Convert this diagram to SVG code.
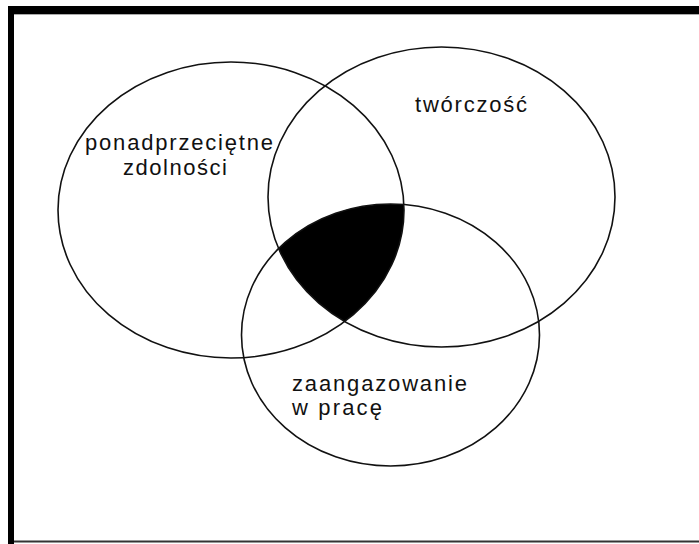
<svg xmlns="http://www.w3.org/2000/svg" width="699" height="544" viewBox="0 0 699 544">
<style>
.ring{fill:none;stroke:#111;stroke-width:1.6}
.lbl{font-family:"Liberation Sans",Arial,sans-serif;font-size:22px;fill:#111}
</style>
<defs>
<clipPath id="cR"><ellipse cx="441.5" cy="197" rx="173.5" ry="150"/></clipPath>
<clipPath id="cB"><ellipse cx="390.5" cy="335" rx="149" ry="131"/></clipPath>
</defs>
<rect x="0" y="0" width="699" height="544" fill="#fff"/>
<g id="frame">
<rect x="8" y="6" width="691" height="8" fill="#000"/>
<rect x="8" y="6" width="6" height="538" fill="#000"/>
<rect x="14" y="14" width="685" height="1" fill="#aaa"/>
<rect x="14" y="540.5" width="685" height="2" fill="#333"/>
</g>
<g id="core">
<g clip-path="url(#cR)"><g clip-path="url(#cB)"><ellipse cx="231" cy="210" rx="173" ry="148" fill="#000"/></g></g>
</g>
<g id="node-zdolnosci">
<ellipse class="ring" cx="231" cy="210" rx="173" ry="148"/>
<text class="lbl" x="85" y="150" textLength="188" lengthAdjust="spacing">ponadprzeciętne</text>
<text class="lbl" x="123" y="175" textLength="104" lengthAdjust="spacing">zdolności</text>
</g>
<g id="node-tworczosc">
<ellipse class="ring" cx="441.5" cy="197" rx="173.5" ry="150"/>
<text class="lbl" x="415" y="112" textLength="112" lengthAdjust="spacing">twórczość</text>
</g>
<g id="node-zaangazowanie">
<ellipse class="ring" cx="390.5" cy="335" rx="149" ry="131"/>
<text class="lbl" x="292" y="391" textLength="175" lengthAdjust="spacing">zaangazowanie</text>
<text class="lbl" x="292" y="415" textLength="90" lengthAdjust="spacing">w pracę</text>
</g>
<g id="connectors"/>
</svg>
